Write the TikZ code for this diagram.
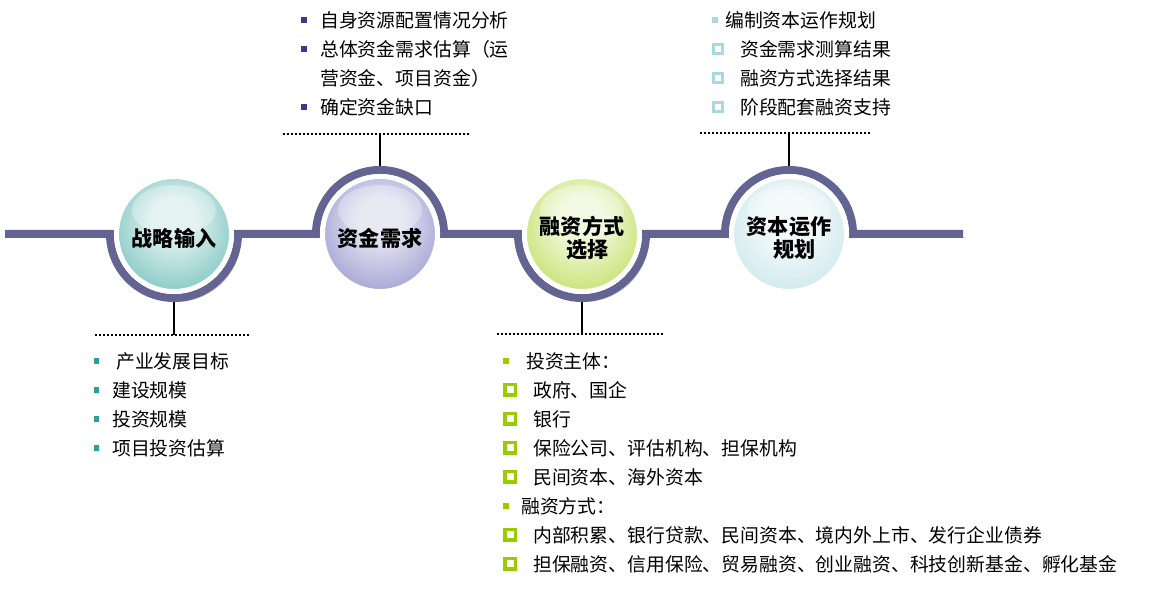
\documentclass[tikz,border=0pt]{standalone}
\usepackage{fontspec}
\setmainfont{Noto Sans CJK SC}
\usepackage{tikz}
\usetikzlibrary{calc,backgrounds}
\definecolor{slate}{RGB}{100,100,146}
\definecolor{lagoon}{RGB}{42,160,152}
\definecolor{iris}{RGB}{58,58,140}
\definecolor{dusk}{RGB}{98,98,182}
\definecolor{sprout}{RGB}{153,204,0}
\definecolor{frost}{RGB}{170,216,222}
\colorlet{ballin}{white}
\colorlet{ballout}{gray}
\pgfdeclareradialshading[ballin,ballout]{stageball}{\pgfpoint{0bp}{8bp}}{%
  color(0bp)=(ballin); color(10bp)=(ballin); color(26bp)=(ballin!60!ballout);
  color(36bp)=(ballin!25!ballout); color(42bp)=(ballout)}
\tikzset{
  track/.style={draw=slate,line width=0.2cm,
    preaction={draw=black!22,transform canvas={xshift=0.07cm,yshift=-0.09cm}}},
  stage/.style 2 args={circle,minimum size=2.875cm,inner sep=0pt,draw=white,line width=0.125cm,
    /utils/exec={\colorlet{ballin}{#1}\colorlet{ballout}{#2}},shading=stageball,
    path picture={\fill[white,opacity=0.3] ($(path picture bounding box.center)+(0,24)$)
      ellipse [x radius=42,y radius=25];}},
  stagetext/.style={font=\fontsize{15pt}{16.5pt}\selectfont\bfseries,align=center,inner sep=0pt},
  item/.style={anchor=west,inner sep=0pt,font=\fontsize{13.4pt}{16pt}\selectfont},
  stem/.style={draw=black,line width=1.1pt},
  dotline/.style={draw=black,line width=1.2pt,dash pattern=on 1.3pt off 1.55pt},
  % list marks
  pics/sqmark/.style={code={
    \fill[#1] (-2.6,-2.6) rectangle (2.6,2.6);
  }},
  pics/boxmark/.style={code={
    \draw[#1,line width=0.085cm] (-5.2,-5.2) rectangle (5.2,5.2);
  }},
}

\begin{document}
\begin{tikzpicture}[x=0.025cm,y=0.025cm]
  \useasboundingbox (0,0) rectangle (1156,589);
  \draw[track] (5,355) -- (110,355) arc[start angle=180,end angle=360,radius=64]
    -- (316,355) arc[start angle=180,end angle=0,radius=64]
    -- (518,355) arc[start angle=180,end angle=360,radius=64]
    -- (725,355) arc[start angle=180,end angle=0,radius=64] -- (963,355);

  \node[stage={lagoon!18!white}{lagoon}] (s1) at (174,355) {};
  \node[stage={dusk!20!white}{dusk}] (s2) at (380,355) {};
  \node[stage={sprout!15!white}{sprout}] (s3) at (582,355) {};
  \node[stage={frost!15!white}{frost}] (s4) at (789,355) {};
  \node[stagetext] (t1) at ([yshift=-0.11cm]s1) {战略输入};
  \node[stagetext] (t2) at ([yshift=-0.11cm]s2) {资金需求};
  \node[stagetext] (t3) at ([yshift=-0.1cm]s3) {融资方式\\\hspace{0.5em}选择};
  \node[stagetext] (t4) at ([yshift=-0.1cm]s4) {资本运作\\\hspace{0.5em}规划};

  \coordinate (d1) at (174,254);
  \coordinate (d2) at (380,455);
  \coordinate (d3) at (582,255);
  \coordinate (d4) at (789,456);
  \draw[dotline] (95,254) -- (251,254);
  \draw[dotline] (283,455) -- (469,455);
  \draw[dotline] (497,255) -- (663,255);
  \draw[dotline] (700,456) -- (872,456);
  \begin{scope}[on background layer]
    \foreach \i in {1,...,4} \draw[stem] (d\i) -- (s\i);
  \end{scope}

  % strategy input
  \foreach \x/\t [count=\i] in {116/产业发展目标,112/建设规模,112/投资规模,112/项目投资估算}{
    \pic at (96.5,{257-29*\i}) {sqmark=lagoon};
    \node[item] (a\i) at (\x,{257-29*\i}) {\t};
  }
  % capital demand
  \foreach \i in {1,2,4} \pic at (304,{598-29*\i}) {sqmark=iris};
  \foreach \t [count=\i] in {自身资源配置情况分析,总体资金需求估算（运,营资金、项目资金）,确定资金缺口}
    \node[item] (b\i) at (320,{598-29*\i}) {\t};
  % financing
  \foreach \i in {1,6} \pic at (506,{257-29*\i}) {sqmark=sprout};
  \foreach \i in {2,3,4,5,7,8} \pic at (510,{257-29*\i}) {boxmark=sprout};
  \foreach \x/\t [count=\i] in {526/投资主体：,533/政府、国企,533/银行,533/保险公司、评估机构、担保机构,
      533/民间资本、海外资本,521/融资方式：,533/内部积累、银行贷款、民间资本、境内外上市、发行企业债券,
      533/担保融资、信用保险、贸易融资、创业融资、科技创新基金、孵化基金}
    \node[item] (c\i) at (\x,{257-29*\i}) {\t};
  % capital planning
  \pic at (715,569) {sqmark=frost};
  \foreach \i in {2,3,4} \pic[scale=0.85] at (718,{598-29*\i}) {boxmark=frost};
  \foreach \x/\t [count=\i] in {725/编制资本运作规划,740/资金需求测算结果,740/融资方式选择结果,740/阶段配套融资支持}
    \node[item] (e\i) at (\x,{598-29*\i}) {\t};
\end{tikzpicture}
\end{document}
